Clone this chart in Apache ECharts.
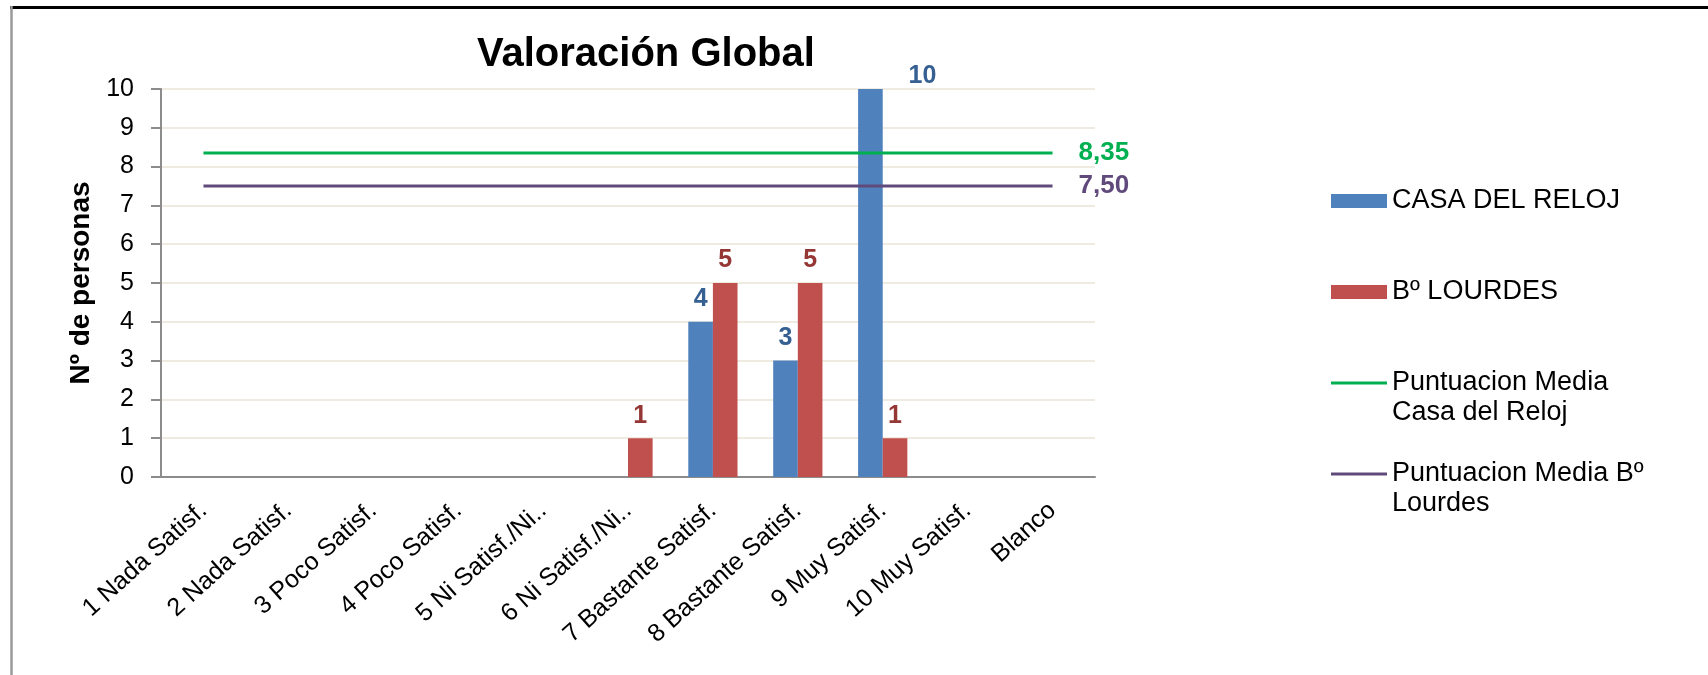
<!DOCTYPE html>
<html>
<head>
<meta charset="utf-8">
<script src="https://cdn.jsdelivr.net/npm/echarts@6/dist/echarts.min.js"></script>
<style>
  html, body { margin: 0; padding: 0; background: #fff; }
  #chart { width: 1708px; height: 675px; }
</style>
</head>
<body>
<div id="chart"></div>
<script>
const categories = [
  '1 Nada Satisf.', '2 Nada Satisf.', '3 Poco Satisf.', '4 Poco Satisf.',
  '5 Ni Satisf./Ni..', '6 Ni Satisf./Ni..', '7 Bastante Satisf.', '8 Bastante Satisf.',
  '9 Muy Satisf.', '10 Muy Satisf.', 'Blanco'
]
const casaDelReloj = [0, 0, 0, 0, 0, 0, 4, 3, 10, 0, 0]
const lourdes = [0, 0, 0, 0, 0, 1, 5, 5, 1, 0, 0]
const mediaCasa = 8.35
const mediaLourdes = 7.50
const yTicks = [0, 10, 1] // min, max, interval

const FONT = '"Liberation Sans", Arial, sans-serif'

// legend text: blank line on top and bottom so the symbol sits on the first text line
const legendLabels = {
  'CASA DEL RELOJ': ' \nCASA DEL RELOJ\n ',
  'Bº LOURDES': ' \nBº LOURDES\n ',
  'Puntuacion Media Casa del Reloj': ' \nPuntuacion Media\nCasa del Reloj',
  'Puntuacion Media Bº Lourdes': ' \nPuntuacion Media Bº\nLourdes'
}

// thin line icon with tiny corner marks so it keeps a 14px tall box
const lineIcon = 'path://M0,0L0.01,0L0,0.01Z M0,5.5L56,5.5L56,8.5L0,8.5Z M0,14L0.01,14L0,13.99Z'

const hideZero = (p) => (p.value ? String(p.value) : '')
const comma = (v) => v.toFixed(2).replace('.', ',')

const chart = echarts.init(document.getElementById('chart'))

const option = {
  animation: false,
  backgroundColor: '#fff',
  textStyle: { fontFamily: FONT },
  title: {
    text: 'Valoración Global',
    left: 472,
    top: 30,
    textStyle: { fontSize: 40, fontWeight: 'bold', color: '#000', fontFamily: FONT }
  },
  legend: {
    orient: 'vertical',
    left: 1331,
    top: 156,
    padding: 0,
    itemGap: 1,
    itemWidth: 56,
    itemHeight: 14,
    formatter: (name) => legendLabels[name],
    textStyle: { fontSize: 27, color: '#000', lineHeight: 30, fontFamily: FONT },
    data: [
      { name: 'CASA DEL RELOJ', icon: 'rect' },
      { name: 'Bº LOURDES', icon: 'rect' },
      { name: 'Puntuacion Media Casa del Reloj', icon: lineIcon },
      { name: 'Puntuacion Media Bº Lourdes', icon: lineIcon }
    ]
  },
  grid: {
    left: 161,
    right: 613,
    top: 89,
    bottom: 198
  },
  xAxis: {
    type: 'category',
    data: categories,
    axisLine: { lineStyle: { color: '#8c8c8c', width: 2 } },
    axisTick: { show: false },
    axisLabel: {
      rotate: 42,
      interval: 0,
      margin: 30,
      fontSize: 25,
      color: '#000',
      fontFamily: FONT
    }
  },
  yAxis: {
    type: 'value',
    min: yTicks[0],
    max: yTicks[1],
    interval: yTicks[2],
    name: 'Nº de personas',
    nameLocation: 'middle',
    nameGap: 61,
    nameTextStyle: { fontSize: 28, fontWeight: 'bold', color: '#000', fontFamily: FONT },
    axisLine: { show: true, lineStyle: { color: '#8c8c8c', width: 2 } },
    axisTick: { show: true, length: 10, lineStyle: { color: '#8c8c8c', width: 2 } },
    axisLabel: { fontSize: 25, color: '#000', margin: 27, fontFamily: FONT },
    splitLine: { lineStyle: { color: '#EFEBE1', width: 2 } }
  },
  series: [
    {
      name: 'CASA DEL RELOJ',
      type: 'bar',
      data: casaDelReloj.map((v, i) => (v === 10 ? { value: v, label: { offset: [52, 10] } } : v)),
      barWidth: '29%',
      barGap: '0%',
      itemStyle: { color: '#4F81BD' },
      label: {
        show: true,
        position: 'top',
        distance: 10,
        formatter: hideZero,
        fontSize: 25,
        fontWeight: 'bold',
        color: '#376092',
        fontFamily: FONT
      }
    },
    {
      name: 'Bº LOURDES',
      type: 'bar',
      data: lourdes,
      barWidth: '29%',
      barGap: '0%',
      itemStyle: { color: '#C0504D' },
      label: {
        show: true,
        position: 'top',
        distance: 10,
        formatter: hideZero,
        fontSize: 25,
        fontWeight: 'bold',
        color: '#953735',
        fontFamily: FONT
      }
    },
    {
      name: 'Puntuacion Media Casa del Reloj',
      type: 'line',
      data: categories.map(() => mediaCasa),
      symbol: 'none',
      lineStyle: { color: '#00B050', width: 3 },
      itemStyle: { color: '#00B050' },
      endLabel: {
        show: true,
        distance: 26,
        formatter: (p) => comma(p.value),
        fontSize: 26,
        fontWeight: 'bold',
        color: '#00B050',
        fontFamily: FONT
      }
    },
    {
      name: 'Puntuacion Media Bº Lourdes',
      type: 'line',
      data: categories.map(() => mediaLourdes),
      symbol: 'none',
      lineStyle: { color: '#604A7B', width: 3 },
      itemStyle: { color: '#604A7B' },
      endLabel: {
        show: true,
        distance: 26,
        formatter: (p) => comma(p.value),
        fontSize: 26,
        fontWeight: 'bold',
        color: '#604A7B',
        fontFamily: FONT
      }
    }
  ],
  graphic: [
    {
      type: 'line',
      shape: { x1: 10, y1: 7.5, x2: 1708, y2: 7.5 },
      style: { stroke: '#000', lineWidth: 3 }
    },
    {
      type: 'line',
      shape: { x1: 11.5, y1: 6, x2: 11.5, y2: 675 },
      style: { stroke: '#9a9a9a', lineWidth: 2.5 }
    }
  ]
}

chart.setOption(option)
window.addEventListener('resize', () => chart.resize())
</script>
</body>
</html>
